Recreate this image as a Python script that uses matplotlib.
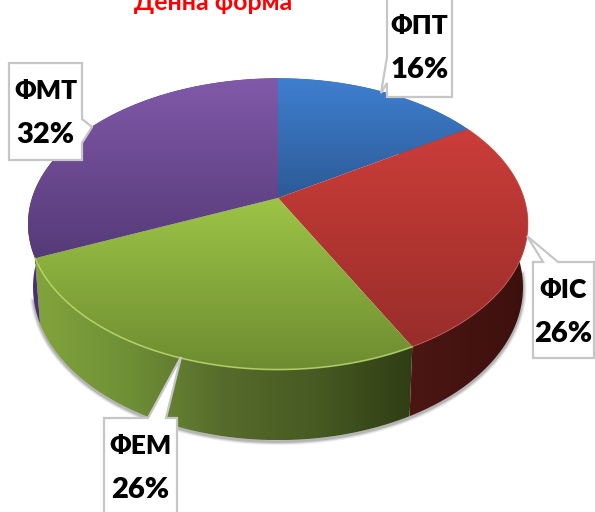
import numpy as np
import matplotlib
matplotlib.use('Agg')
import matplotlib.pyplot as plt
from matplotlib.colors import LinearSegmentedColormap
from matplotlib.patches import Polygon

title = 'Денна форма'
faculties = ['ФПТ', 'ФІС', 'ФЕМ', 'ФМТ']
shares = [16, 26.4, 26.1, 31.5]

# colours: top of the slice (back to front), side of the slice (left to right)
top_colors = [('#3f7fd0', '#2c5a96'), ('#cc3d39', '#982d2a'),
              ('#9dc446', '#6d8c31'), ('#8159a9', '#553a78')]
side_colors = [('#2c5a96', '#2c5a96'), ('#4c1613', '#3c100e'),
               ('#82a33c', '#6f8f36', '#566b2b', '#465a22', '#2f3d14'),
               ('#4a3070', '#553a80')]

# callout boxes in pixels: left, top, right, bottom, tip, pointer base
boxes = [(387, -2, 452, 97, (381, 93), ((387, 57), (387, 83))),
         (533, 262, 594, 358, (527, 236), ((543, 262), (558, 262))),
         (104, 418, 177, 520, (181, 357), ((148, 418), (166, 418))),
         (9, 63, 82, 160, (92, 127), ((82, 119), (82, 143)))]

CX, CY = 278, 198
RX, RY, K = 246, 141, 0.178
FONT = ['Lato', 'Noto Sans']


def project(theta):
    # disc seen in perspective, theta measured clockwise from the top
    s = -np.cos(theta)
    d = 1 - K * s
    return CX + RX * np.sin(theta) / d, CY + RY * s / d


def lower(x, y):
    return CX + (x - CX) * 0.98, y + 62 + 0.05 * (y - CY)


def gradient_fill(ax, pts, colors, z, horizontal=False):
    poly = Polygon(pts, closed=True, fc='none', ec='none')
    ax.add_patch(poly)
    cmap = LinearSegmentedColormap.from_list('g', list(colors))
    x0, x1 = pts[:, 0].min(), pts[:, 0].max()
    y0, y1 = pts[:, 1].min(), pts[:, 1].max()
    grad = np.linspace(0, 1, 256)
    grad = grad[None, :] if horizontal else grad[:, None]
    im = ax.imshow(grad, cmap=cmap, extent=(x0, x1, y1, y0), aspect='auto',
                   interpolation='bilinear', zorder=z)
    im.set_clip_path(poly)


fig = plt.figure(figsize=(5.95, 5.12), dpi=100)

# the pie gives the angle of every slice
helper = fig.add_axes([0, 0, 0.01, 0.01])
wedges, _ = helper.pie(shares, startangle=90, counterclock=False)
spans = [(np.radians(90 - w.theta2), np.radians(90 - w.theta1)) for w in wedges]
helper.remove()

ax = fig.add_axes([0, 0, 1, 1])
ax.set_xlim(0, 595)
ax.set_ylim(512, 0)
ax.axis('off')

# soft shadow under the lower rim
t = np.linspace(np.radians(95), np.radians(255), 300)
rim_x, rim_y = lower(*project(t))
for w, a in zip([5, 3.5, 2], [0.10, 0.15, 0.25]):
    ax.plot(rim_x, rim_y + 1.5, color='#555555', lw=w, alpha=a, zorder=1)

# side walls, then the top
for (a0, a1), cols in zip(spans, side_colors):
    t = np.linspace(a0, a1, 120)
    x, y = project(t)
    bx, by = lower(x, y)
    pts = np.column_stack([np.r_[x, bx[::-1]], np.r_[y, by[::-1]]])
    gradient_fill(ax, pts, cols, 2, horizontal=True)

for (a0, a1), cols in zip(spans, top_colors):
    t = np.linspace(a0, a1, 120)
    x, y = project(t)
    pts = np.column_stack([np.r_[CX, x], np.r_[CY, y]])
    gradient_fill(ax, pts, cols, 3)

# light edge along the front of the green and red slices
t = np.linspace(spans[2][0], spans[2][1], 120)
ax.plot(*project(t), color='#bcd96e', lw=1.2, alpha=0.8, zorder=4)
t = np.linspace(spans[1][0], spans[1][1], 120)
ax.plot(*project(t), color='#d9635f', lw=0.8, alpha=0.5, zorder=4)

for name, share, box in zip(faculties, shares, boxes):
    l, tp, r, b, tip, base = box
    if base[0][0] != base[1][0]:
        outline = [(l, tp), base[0], tip, base[1], (r, tp), (r, b), (l, b)]
    elif base[0][0] == l:
        outline = [(l, tp), base[0], tip, base[1], (l, b), (r, b), (r, tp)]
    else:
        outline = [(l, tp), (l, b), (r, b), base[1], tip, base[0], (r, tp)]
    ax.add_patch(Polygon(outline, closed=True, fc='white', ec='#c6c6c6',
                         lw=1.6, zorder=5))
    mid = (l + r) / 2
    ax.text(mid, tp + 28, name, ha='center', va='center', fontsize=19,
            fontweight='heavy', color='black', zorder=6, family=FONT)
    ax.text(mid, tp + 72, f'{share:.0f}%', ha='center', va='center', fontsize=21,
            fontweight='heavy', color='black', zorder=6, family=FONT)

ax.text(213, 10, title, ha='center', va='baseline', fontsize=18, fontweight='bold',
        color='#ff0000', family=FONT)

fig.savefig('out.png', dpi=100)
